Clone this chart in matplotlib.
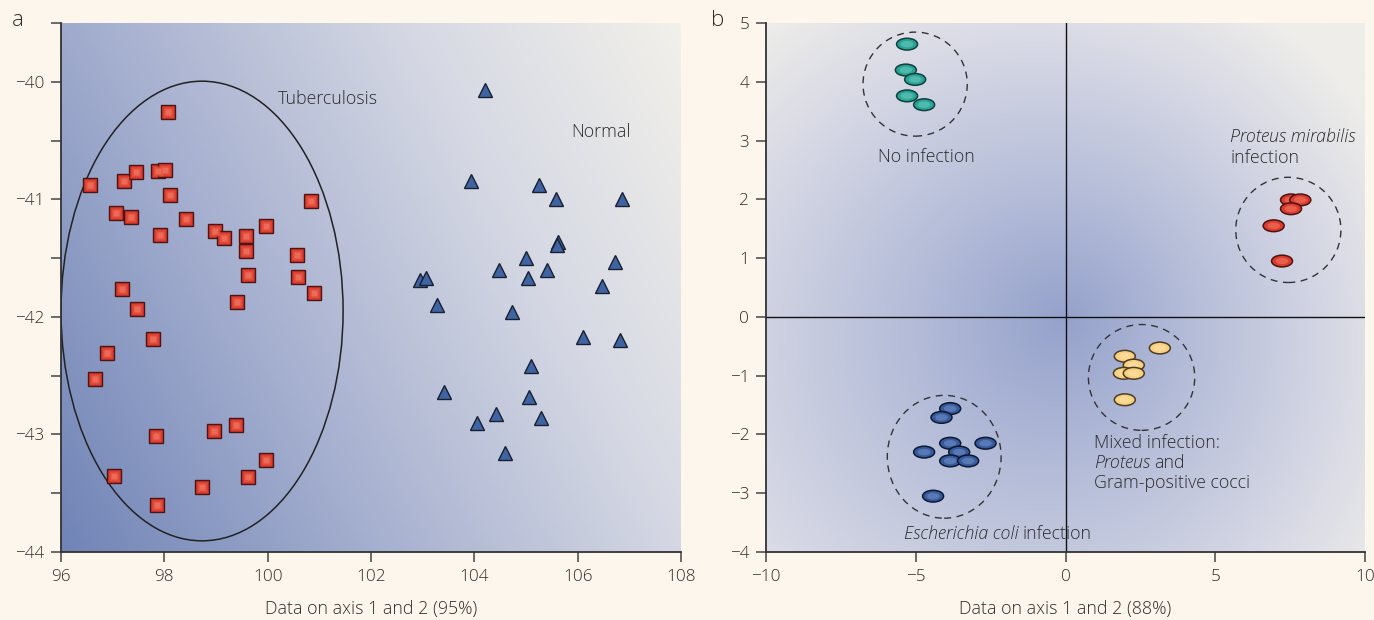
import numpy as np
import matplotlib
matplotlib.use("Agg")
import matplotlib.pyplot as plt
from matplotlib.patches import Ellipse
from matplotlib.colors import LinearSegmentedColormap

plt.rcParams['font.family'] = ['Open Sans', 'DejaVu Sans']
plt.rcParams['font.weight'] = 'light'
plt.rcParams['axes.labelweight'] = 'light'

# ---------------- data: panel a ----------------
tb_x = [96.56, 97.22, 97.45, 97.88, 98.01, 98.07, 98.11, 97.06, 97.35, 97.92,
        98.42, 98.98, 99.15, 99.58, 99.97, 99.58, 99.62, 100.57, 100.59, 100.84,
        100.90, 97.18, 97.47, 99.41, 97.78, 96.89, 96.66, 97.84, 98.96, 99.39,
        99.97, 97.03, 99.62, 98.73, 97.86]
tb_y = [-40.88, -40.84, -40.77, -40.76, -40.75, -40.26, -40.96, -41.12, -41.15, -41.30,
        -41.17, -41.27, -41.33, -41.31, -41.23, -41.44, -41.64, -41.47, -41.66, -41.01,
        -41.80, -41.76, -41.93, -41.87, -42.19, -42.31, -42.53, -43.01, -42.97, -42.92,
        -43.22, -43.35, -43.36, -43.45, -43.60]

nm_x = [104.21, 103.93, 105.25, 105.58, 106.86, 105.62, 105.60, 105.00, 106.72, 104.48,
        105.41, 105.04, 102.95, 103.06, 106.47, 103.28, 104.73, 106.10, 106.82, 105.10,
        103.41, 105.06, 104.42, 104.05, 105.29, 104.59]
nm_y = [-40.07, -40.84, -40.88, -41.00, -41.00, -41.36, -41.39, -41.50, -41.53, -41.60,
        -41.60, -41.67, -41.69, -41.67, -41.74, -41.90, -41.96, -42.17, -42.20, -42.42,
        -42.64, -42.68, -42.83, -42.90, -42.86, -43.16]

a_xticks = [96, 98, 100, 102, 104, 106, 108]
a_yticks = [-40, -41, -42, -43, -44]
a_ytick_labels = ['\u221240', '\u221241', '\u221242', '\u221243', '\u221244']
a_yminor = [-39.5, -40.5, -41.5, -42.5, -43.5]

tb_ellipse = (98.73, -41.95, 5.46, 3.91)  # centre x, centre y, width, height

# ---------------- data: panel b ----------------
noinf_x = [-5.29, -5.33, -5.02, -5.29, -4.72]
noinf_y = [4.64, 4.20, 4.04, 3.76, 3.61]
prot_x = [7.53, 7.84, 7.53, 6.95, 7.23]
prot_y = [1.99, 1.99, 1.84, 1.55, 0.95]
mixed_x = [3.15, 1.98, 2.28, 1.95, 2.28, 1.98]
mixed_y = [-0.53, -0.67, -0.82, -0.96, -0.96, -1.41]
ecoli_x = [-3.85, -4.14, -3.85, -2.67, -4.72, -3.55, -3.85, -3.25, -4.42]
ecoli_y = [-1.56, -1.71, -2.15, -2.15, -2.30, -2.30, -2.45, -2.45, -3.05]

b_xticks = [-10, -5, 0, 5, 10]
b_xtick_labels = ['\u221210', '\u22125', '0', '5', '10']
b_yticks = [-4, -3, -2, -1, 0, 1, 2, 3, 4, 5]
b_ytick_labels = ['\u22124', '\u22123', '\u22122', '\u22121', '0', '1', '2', '3', '4', '5']

# group circles: centre x, centre y, width, height
circ_noinf = (-5.02, 3.96, 3.48, 1.77)
circ_prot = (7.44, 1.48, 3.51, 1.79)
circ_mixed = (2.54, -1.03, 3.55, 1.80)
circ_ecoli = (-4.05, -2.38, 3.80, 2.09)

# ---------------- styling ----------------
BG = '#fdf6ec'
TXT = '#2c2c2c'
FS = 12.8
fig = plt.figure(figsize=(13.74, 6.20), dpi=100, facecolor=BG)

axa = fig.add_axes([61/1374, 1-552/620, 620/1374, 529/620])
axb = fig.add_axes([766/1374, 1-552/620, 599/1374, 529/620])

for ax in (axa, axb):
    ax.set_facecolor(BG)
    for s in ('top', 'right'):
        ax.spines[s].set_visible(False)
    for s in ('left', 'bottom'):
        ax.spines[s].set_color('#333333')
        ax.spines[s].set_linewidth(1.3)
    ax.tick_params(which='both', direction='out', length=7, width=1.1, color='#444444',
                   labelsize=12.3, labelcolor=TXT, pad=5)

# --- panel a background: linear diagonal gradient
xa0, xa1, ya0, ya1 = 96, 108, -44, -39.5
u, v = np.meshgrid(np.linspace(0, 1, 400), np.linspace(0, 1, 400))
t = (0.85 * u * 620 + 0.45 * v * 529) / (0.85 * 620 + 0.45 * 529)
cmap_a = LinearSegmentedColormap.from_list('ga', [
    (0.0, (112/255, 132/255, 182/255)),
    (0.35, (165/255, 175/255, 207/255)),
    (0.7, (214/255, 217/255, 228/255)),
    (1.0, (242/255, 240/255, 234/255))])
axa.imshow(t, cmap=cmap_a, origin='lower', extent=[xa0, xa1, ya0, ya1],
           aspect='auto', zorder=0, interpolation='bilinear')
axa.set_xlim(xa0, xa1)
axa.set_ylim(ya0, ya1)

# --- panel b background: radial gradient centred at origin
xb0, xb1, yb0, yb1 = -10, 10, -4, 5
gx, gy = np.meshgrid(np.linspace(xb0, xb1, 400), np.linspace(yb0, yb1, 400))
dx = gx * 29.9
dy = gy * 58.78
r = np.sqrt(dx**2 + dy**2) / 420 + 0.08 * (gx / 10 + gy / 5)
r = np.clip(r, 0, 1)
cmap_b = LinearSegmentedColormap.from_list('gb', [
    (0.0, (150/255, 162/255, 204/255)),
    (0.35, (182/255, 190/255, 217/255)),
    (0.7, (213/255, 215/255, 228/255)),
    (1.0, (238/255, 237/255, 234/255))])
axb.imshow(r, cmap=cmap_b, origin='lower', extent=[xb0, xb1, yb0, yb1],
           aspect='auto', zorder=0, interpolation='bilinear')
axb.set_xlim(xb0, xb1)
axb.set_ylim(yb0, yb1)

# ---------------- panel a marks ----------------
cx, cy, w, h = tb_ellipse
axa.add_patch(Ellipse((cx, cy), w, h, fill=False, ec='#222222', lw=1.1, zorder=2))
axa.plot(tb_x, tb_y, ls='none', marker='s', ms=9.5, mfc='#d3352b', mec='#4a1612',
         mew=1.0, zorder=3)
axa.plot(tb_x, tb_y, ls='none', marker='s', ms=7, mfc='#e4503f', mec='none',
         alpha=0.8, zorder=4)
axa.plot(tb_x, tb_y, ls='none', marker='s', ms=4, mfc='#f07a62', mec='none',
         alpha=0.7, zorder=4)
axa.plot(nm_x, nm_y, ls='none', marker='^', ms=10, mfc='#3f64a3', mec='#1a1f30',
         mew=1.0, zorder=3)

axa.text(101.17, -40.15, 'Tuberculosis', fontsize=FS, color=TXT, ha='center', va='center')
axa.text(106.45, -40.43, 'Normal', fontsize=FS, color=TXT, ha='center', va='center')

axa.set_xticks(a_xticks)
axa.set_yticks(a_yticks)
axa.set_yticklabels(a_ytick_labels)
axa.set_yticks(a_yminor, minor=True)
axa.set_xlabel('Data on axis 1 and 2 (95%)', fontsize=FS, color=TXT, labelpad=11)

# ---------------- panel b marks ----------------
axb.axvline(0, color='#111111', lw=1.0, zorder=1)
axb.axhline(0, color='#111111', lw=1.0, zorder=1)

for c in (circ_noinf, circ_prot, circ_mixed, circ_ecoli):
    axb.add_patch(Ellipse((c[0], c[1]), c[2], c[3], fill=False, ec='#333333',
                          lw=1.0, ls=(0, (5, 4)), zorder=2))

EW, EH = 0.70, 0.20
groups = [
    (noinf_x, noinf_y, '#2aa397', '#6ccdc0', '#10403a'),
    (prot_x, prot_y, '#dd3a2e', '#f07d66', '#4a1410'),
    (mixed_x, mixed_y, '#f9cf7c', '#fde3ae', '#4a3d28'),
    (ecoli_x, ecoli_y, '#365a9e', '#7693c8', '#0e1830'),
]
for xs, ys, fc, hc, ec in groups:
    for x, y in zip(xs, ys):
        axb.add_patch(Ellipse((x, y), EW, EH, fc=fc, ec=ec, lw=1.1, zorder=3))
        axb.add_patch(Ellipse((x, y), EW * 0.6, EH * 0.55, fc=hc, ec='none',
                              alpha=0.55, zorder=3))

axb.text(-4.65, 2.72, 'No infection', fontsize=FS, color=TXT, ha='center', va='center')
axb.text(5.5, 3.06, 'Proteus mirabilis', fontsize=FS, color=TXT, ha='left',
         va='center', style='italic')
axb.text(5.5, 2.70, 'infection', fontsize=FS, color=TXT, ha='left', va='center')
axb.text(0.95, -2.15, 'Mixed infection:', fontsize=FS, color=TXT, ha='left', va='center')
t_prot = axb.text(0.95, -2.49, 'Proteus', fontsize=FS, color=TXT, ha='left', va='center',
                  style='italic')
axb.text(0.95, -2.83, 'Gram-positive cocci', fontsize=FS, color=TXT, ha='left', va='center')
t_ec = axb.text(-5.4, -3.70, 'Escherichia coli', fontsize=FS, color=TXT, ha='left',
                va='center', style='italic')

# place the upright follow-on words right after the italic words
fig.canvas.draw()
rend = fig.canvas.get_renderer()
inv = axb.transData.inverted()
for tt, word, y in ((t_prot, 'and', -2.49), (t_ec, 'infection', -3.70)):
    bb = tt.get_window_extent(renderer=rend)
    xd = inv.transform((bb.x1 + 4.5, bb.y0))[0]
    axb.text(xd, y, word, fontsize=FS, color=TXT, ha='left', va='center')

axb.set_xticks(b_xticks)
axb.set_xticklabels(b_xtick_labels)
axb.set_yticks(b_yticks)
axb.set_yticklabels(b_ytick_labels)
axb.set_xlabel('Data on axis 1 and 2 (88%)', fontsize=FS, color=TXT, labelpad=11)

fig.text(18/1374, 1-20/620, 'a', fontsize=16, color=TXT, ha='center', va='center')
fig.text(718/1374, 1-20/620, 'b', fontsize=16, color=TXT, ha='center', va='center')

fig.savefig('out.png', dpi=100, facecolor=BG)
